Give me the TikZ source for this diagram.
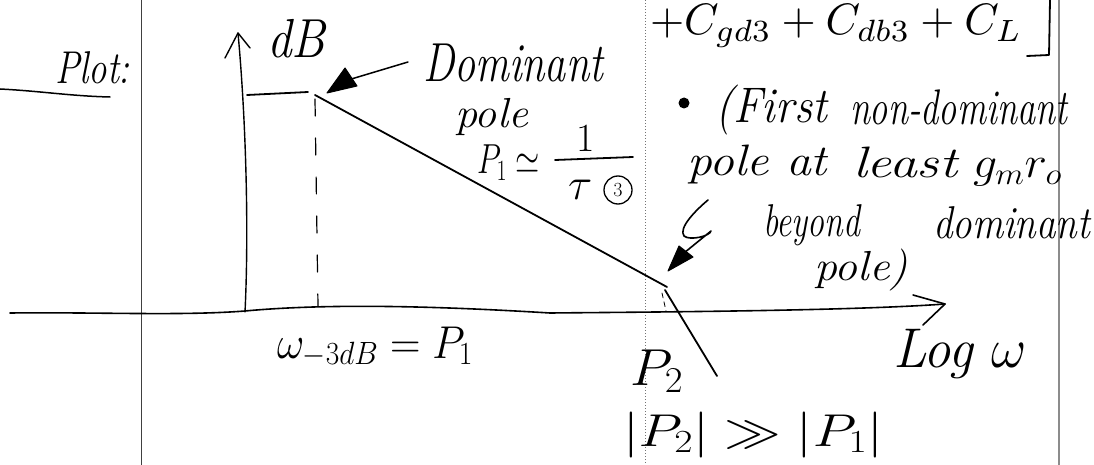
\RequirePackage{fix-cm}
\documentclass[tikz,border=0pt]{standalone}
\usepackage{graphicx}
\newcommand\hw[3]{\resizebox{#1}{\height}{\fontsize{#2}{#2}\selectfont #3}}
\tikzset{
  ink/.style={line width=1.8pt, line cap=round, line join=round, black},
  thinrule/.style={line width=0.9pt, black!75},
  dotrule/.style={line width=0.8pt, black!55, dash pattern=on 1pt off 2pt},
  siderule/.style={line width=1.4pt, black!45},
  hand/.style={inner sep=0pt, outer sep=0pt, anchor=base west, font=\itshape},
  penhead/.style={fill=black, draw=black, line width=1pt, line join=round},
}
\begin{document}
\begin{tikzpicture}[x=1pt,y=-1pt]
\useasboundingbox (0,0) rectangle (1094,465);
\begin{scope}
\clip (0,0) rectangle (1094,465);
% page rules
\coordinate (ruleAtop) at (141,0); \coordinate (ruleAbot) at (141,465);
\draw[thinrule] (ruleAtop) -- (ruleAbot);
\coordinate (ruleBtop) at (645,0); \coordinate (ruleBbot) at (645,465);
\draw[dotrule] (ruleBtop) -- (ruleBbot);
\coordinate (ruleCtop) at (1059,0); \coordinate (ruleCbot) at (1059,465);
\draw[siderule] (ruleCtop) -- (ruleCbot);

% Plot:
\node[hand] (plot) at (55,84) {\hw{75pt}{46pt}{Plot:}};
\coordinate (ulA) at (0,89); \coordinate (ulB) at (110,97);
\draw[ink,line width=1.5pt] (ulA) .. controls (40,91) and (70,96) .. (ulB);

% y axis
\coordinate (yBot) at (245,312); \coordinate (yTop) at (238,33);
\coordinate (ybarbL) at (225,58); \coordinate (ybarbR) at (250,48);
\draw[ink,line width=1.4pt] (yBot) .. controls (249,230) and (246,120) .. (yTop);
\draw[ink,line width=1.4pt] (ybarbL) -- (yTop) -- (ybarbR);
\node[hand] (dB) at (267,58) {\hw{58pt}{55pt}{dB}};

% x axis
\coordinate (xL) at (10,313); \coordinate (xM1) at (245,311);
\coordinate (xM2) at (550,313); \coordinate (xR) at (945,304);
\coordinate (xbarbU) at (913,295); \coordinate (xbarbD) at (923,325);
\draw[ink,line width=1.6pt] (xL) .. controls (100,312) and (180,316) .. (xM1)
  .. controls (320,304) and (420,305) .. (xM2)
  .. controls (650,312) and (850,311) .. (xR);
\draw[ink,line width=1.6pt] (xbarbU) -- (xR) -- (xbarbD);
\node[hand] (logw) at (893,367) {\hw{134pt}{56pt}{Log $\omega$}};

% response curve
\coordinate (flatA) at (247,95); \coordinate (flatB) at (308,92);
\draw[ink] (flatA) -- (flatB);
\coordinate (p1) at (315,95); \coordinate (p2) at (667,287);
\coordinate (p2b) at (665,290); \coordinate (p2end) at (717,376);
\draw[ink] (p1) -- (p2);
\draw[ink] (p2b) -- (p2end);
\coordinate (d1top) at (315,99); \coordinate (d1bot) at (318,306);
\draw[ink,line width=1.2pt,dash pattern=on 17pt off 22pt] (d1top) -- (d1bot);
\coordinate (d2top) at (662,293); \coordinate (d2bot) at (666,311);
\draw[ink,line width=0.8pt,dash pattern=on 5pt off 4pt] (d2top) -- (d2bot);

% dominant pole arrow
\coordinate (domTail) at (408,62); \coordinate (domHead) at (348,80);
\draw[ink,line width=1.5pt] (domTail) -- (domHead);
\coordinate (domTip) at (327,93);
\filldraw[penhead] (domTip) -- (345,68) -- (357,86) -- cycle;
\node[hand] (dom) at (423,82) {\hw{180pt}{55pt}{Dominant}};
\node[hand] (pole1) at (455,128) {\hw{73pt}{42pt}{pole}};

% P1 ~ 1/tau(3)
\node[hand] (p1lab) at (477,174) {\hw{63pt}{42pt}{$P_1\simeq$}};
\coordinate (barL) at (555,160); \coordinate (barR) at (633,157);
\draw[ink] (barL) -- (barR);
\node[hand, font=\fontsize{40pt}{40pt}\selectfont] (one) at (576,152) {1};
\node[hand, font=\fontsize{45pt}{45pt}\selectfont] (tau) at (568,200) {$\tau$};
\node[draw, circle, line width=1.3pt, minimum size=28pt, inner sep=0pt, font=\fontsize{20pt}{20pt}\selectfont] (c3) at (618,190) {3};

% top expression
\node[hand] (topexpr) at (650,35) {\resizebox{372pt}{!}{$+C_{gd3}+C_{db3}+C_L$}};
\coordinate (brT) at (1050,0); \coordinate (brB) at (1049,55); \coordinate (brL) at (1027,56);
\draw[ink] (brT) -- (brB) -- (brL);

% right-hand note
\node[circle, fill=black, minimum size=11pt, inner sep=0pt] (bul) at (684,103) {};
\node[hand] (first) at (715,123) {\hw{112pt}{50pt}{(First}};
\node[hand] (nondom) at (850,125) {\hw{217pt}{50pt}{non-dominant}};
\node[hand] (poleat) at (687,176) {\hw{140pt}{44pt}{pole at}};
\node[hand] (least) at (853,178) {\hw{104pt}{44pt}{least}};
\node[hand] (gmro) at (973,178) {\hw{89pt}{44pt}{$g_m r_o$}};
\node[hand] (beyond) at (763,236) {\hw{97pt}{46pt}{beyond}};
\node[hand] (dominant2) at (933,238) {\hw{157pt}{46pt}{dominant}};
\node[hand] (pole2) at (814,280) {\hw{94pt}{42pt}{pole)}};

% S arrow to second pole
\coordinate (sA) at (708,200); \coordinate (sB) at (684,236);
\coordinate (sC) at (711,231); \coordinate (sHead) at (684,253);
\coordinate (sTip) at (668,271);
\draw[ink,line width=1.6pt] (sA) .. controls (696,210) and (678,228) .. (sB)
  .. controls (690,241) and (710,236) .. (sC) -- (sHead);
\filldraw[penhead] (sTip) -- (679,246) -- (693,257) -- cycle;

% bottom labels
\node[hand] (w3db) at (277,358) {\hw{196pt}{46pt}{$\omega_{-3dB}=P_1$}};
\node[hand] (p2lab) at (630,385) {\hw{53pt}{52pt}{$P_2$}};
\node[hand] (ineq) at (623,446) {\hw{260pt}{46pt}{$|P_2|\gg|P_1|$}};
\end{scope}
\end{tikzpicture}
\end{document}
